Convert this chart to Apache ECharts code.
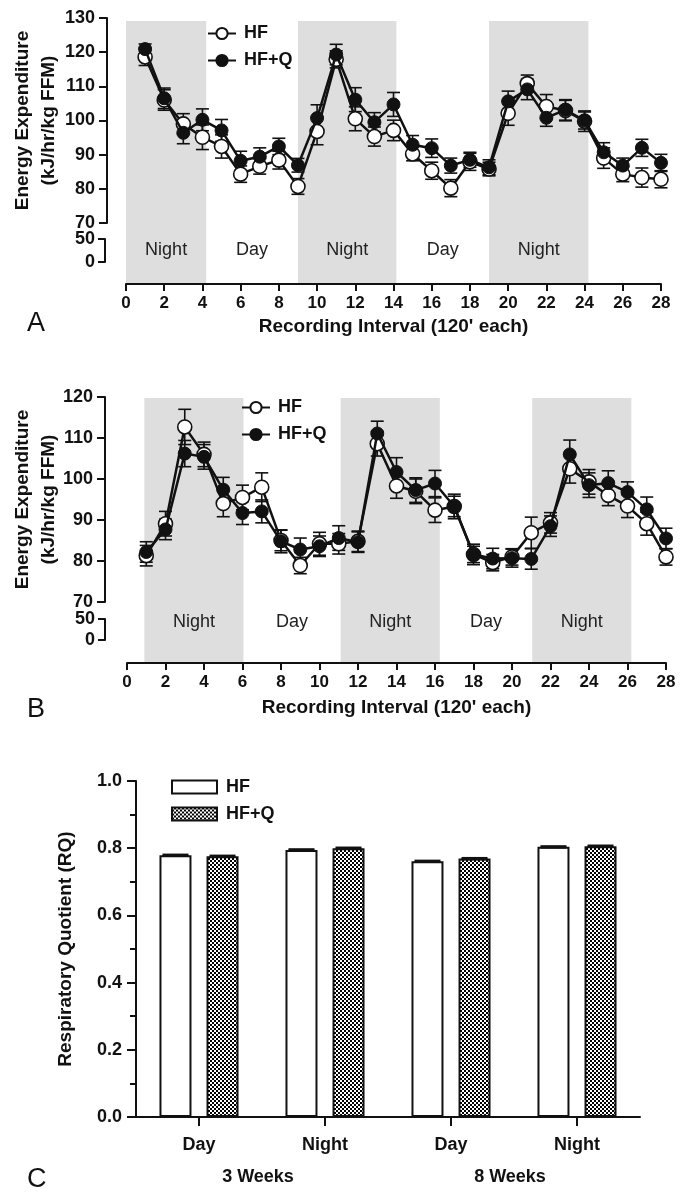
<!DOCTYPE html>
<html>
<head>
<meta charset="utf-8">
<script src="https://cdn.jsdelivr.net/npm/echarts@6/dist/echarts.min.js"></script>
<style>
  html, body { margin: 0; padding: 0; background: #fff; }
  #chart { width: 690px; height: 1203px; }
</style>
</head>
<body>
<div id="chart"></div>
<script>
// ---------------- DATA ----------------
const intervals = [1,2,3,4,5,6,7,8,9,10,11,12,13,14,15,16,17,18,19,20,21,22,23,24,25,26,27,28];
const xTicksLabel = 'Recording Interval (120\' each)';

// Panel A
const aHF   = [118.6,106.0,99.0,95.1,92.4,84.3,86.6,88.4,80.7,96.8,117.9,100.5,95.3,97.1,90.2,85.3,80.2,87.9,85.8,102.1,110.8,104.1,102.9,99.8,89.0,84.3,83.3,82.8];
const aHFQ  = [120.9,106.5,96.4,100.2,97.1,88.2,89.4,92.4,86.9,100.7,119.3,106.1,99.5,104.7,92.9,91.9,86.8,88.5,86.3,105.6,109.1,100.8,103.1,100.0,90.7,86.8,92.0,87.6];
const aHFerr  = [2.5,3.0,3.0,3.6,3.4,2.4,2.3,2.6,2.3,3.9,2.5,3.5,2.8,3.0,2.0,2.5,2.5,2.5,2.0,3.5,2.5,3.5,3.0,3.0,3.0,2.2,2.8,2.5];
const aHFQerr = [1.5,3.0,3.2,3.2,3.2,2.8,2.6,2.4,2.0,3.9,3.0,3.5,2.8,3.5,2.7,2.7,2.2,2.2,2.2,3.0,3.0,2.5,3.0,2.5,2.8,2.2,2.5,2.5];
const aNight = [[0, 4.2], [9, 14.15], [19, 24.2]];
const aDay   = [[4.2, 9], [14.15, 19]];

// Panel B
const bHF   = [81.3,89.1,112.7,106.0,94.0,95.5,98.0,85.0,78.9,84.2,84.2,84.8,108.6,98.3,97.0,92.4,93.3,81.6,79.6,81.0,86.9,89.3,102.5,99.3,96.0,93.4,89.1,81.0];
const bHFQ  = [82.2,87.7,106.2,105.4,97.4,91.7,92.1,84.8,82.8,83.6,85.6,84.6,111.1,101.7,97.3,98.9,93.3,81.6,80.6,80.7,80.5,88.5,106.0,98.5,99.0,96.8,92.6,85.5];
const bHFerr  = [2.5,3.0,4.3,3.0,3.2,3.0,3.5,2.5,2.0,2.8,2.5,2.5,3.0,3.0,3.0,3.0,2.5,2.0,2.0,2.0,3.8,2.5,3.5,3.0,2.5,2.8,2.8,2.0];
const bHFQerr = [2.5,2.5,3.2,3.0,3.0,2.8,2.8,2.8,2.8,2.5,3.0,2.5,3.0,3.5,3.0,3.2,3.0,2.5,2.5,2.2,2.5,2.5,3.5,3.0,3.0,2.5,3.0,2.5];
const bNight = [[0.9, 6.05], [11.1, 16.25], [21.05, 26.2]];
const bDay   = [[6.05, 11.1], [16.25, 21.05]];

// Panel C
const cCategories = ['Day', 'Night', 'Day', 'Night'];
const cGroups = ['3 Weeks', '8 Weeks'];
const cHF   = [0.779, 0.795, 0.761, 0.804];
const cHFQ  = [0.776, 0.800, 0.769, 0.806];
const cHFerr  = [0.002, 0.002, 0.002, 0.002];
const cHFQerr = [0.002, 0.002, 0.002, 0.002];

// ---------------- STYLE ----------------
const FONT = "'Liberation Sans', Arial, Helvetica, sans-serif";
const BLACK = '#111';
const SHADE = '#dedede';
const BAR_W = 32;
const BAR_GAP = 0.47;

function checker() {
  const c = document.createElement('canvas');
  c.width = 4; c.height = 4;
  const g = c.getContext('2d');
  g.fillStyle = '#000'; g.fillRect(0, 0, 4, 4);
  g.fillStyle = '#fff'; g.fillRect(0, 0, 2, 2); g.fillRect(2, 2, 2, 2);
  return c;
}
const checkerPattern = { image: checker(), repeat: 'repeat' };

function pairs(xs, ys) { return xs.map((x, i) => [x, ys[i]]); }
function triples(xs, ys, es) { return xs.map((x, i) => [x, ys[i], es[i]]); }

function errRender(offsetSign) {
  return function (params, api) {
    const x = api.value(0), v = api.value(1), e = api.value(2);
    const t = api.coord([x, v + e]);
    const b = api.coord([x, v - e]);
    const off = offsetSign ? offsetSign * BAR_W * (1 + BAR_GAP) / 2 : 0;
    const hw = offsetSign ? 13 : 6.5;
    const cx = t[0] + off;
    const st = { stroke: BLACK, lineWidth: offsetSign ? 2 : 1.6 };
    return {
      type: 'group',
      children: [
        { type: 'line', shape: { x1: cx, y1: t[1], x2: cx, y2: b[1] }, style: st },
        { type: 'line', shape: { x1: cx - hw, y1: t[1], x2: cx + hw, y2: t[1] }, style: st },
        { type: 'line', shape: { x1: cx - hw, y1: b[1], x2: cx + hw, y2: b[1] }, style: st }
      ]
    };
  };
}

function shadeAreas(night, day) {
  const items = [];
  night.forEach(r => items.push([{ xAxis: r[0], name: 'Night', itemStyle: { color: SHADE } }, { xAxis: r[1] }]));
  day.forEach(r => items.push([{ xAxis: r[0], name: 'Day', itemStyle: { color: 'rgba(0,0,0,0)' } }, { xAxis: r[1] }]));
  return items;
}

const axisLineStyle = { show: true, onZero: false, lineStyle: { color: BLACK, width: 2 } };
const tickLabel = { color: BLACK, fontFamily: FONT, fontWeight: 'bold', fontSize: 18 };

function hiddenAxis(grid, extra) {
  return Object.assign({ gridIndex: grid, type: 'value', show: false, axisLine: { onZero: false }, splitLine: { show: false } }, extra || {});
}

function baseXAxis(grid, nameGap) {
  return {
    gridIndex: grid, type: 'value', min: 0, max: 28, interval: 2, z: 5,
    axisLine: axisLineStyle,
    axisTick: { show: true, length: 7, lineStyle: { color: BLACK, width: 2 } },
    axisLabel: Object.assign({ margin: 11 }, tickLabel, { fontSize: 17 }),
    splitLine: { show: false },
    name: xTicksLabel, nameLocation: 'middle', nameGap: nameGap, nameMoveOverlap: false,
    nameTextStyle: { color: BLACK, fontFamily: FONT, fontWeight: 'bold', fontSize: 19 }
  };
}

function upperYAxis(grid, min, max, offset, nameGap) {
  return {
    gridIndex: grid, type: 'value', min: min, max: max, interval: 10, offset: offset,
    axisLine: axisLineStyle,
    axisTick: { show: true, length: 8, lineStyle: { color: BLACK, width: 2 } },
    axisLabel: Object.assign({ margin: 12 }, tickLabel),
    splitLine: { show: false },
    name: 'Energy Expenditure\n(kJ/hr/kg FFM)', nameLocation: 'middle', nameRotate: 90, nameGap: nameGap,
    nameMoveOverlap: false,
    nameTextStyle: { color: BLACK, fontFamily: FONT, fontWeight: 'bold', fontSize: 19, lineHeight: 26 }
  };
}

function lowerYAxis(grid) {
  return {
    gridIndex: grid, type: 'value', min: 0, max: 50, interval: 50,
    axisLine: axisLineStyle,
    axisTick: { show: true, length: 7, lineStyle: { color: BLACK, width: 2 } },
    axisLabel: Object.assign({ margin: 10 }, tickLabel),
    splitLine: { show: false }
  };
}

function lineSeries(name, xIdx, yIdx, data, filled) {
  return {
    name: name, type: 'line', xAxisIndex: xIdx, yAxisIndex: yIdx, z: filled ? 6 : 5,
    data: data, symbol: 'circle', symbolSize: filled ? 13 : 14,
    lineStyle: { color: BLACK, width: 2.5 },
    itemStyle: filled ? { color: BLACK, borderColor: BLACK, borderWidth: 1 }
                      : { color: '#fff', borderColor: BLACK, borderWidth: 1.6 },
    emphasis: { disabled: true }
  };
}

function errSeries(name, xIdx, yIdx, data, sign) {
  return {
    name: name, type: 'custom', xAxisIndex: xIdx, yAxisIndex: yIdx, z: 4,
    renderItem: errRender(sign), data: data, silent: true
  };
}

function shadeSeries(xIdx, yIdx, night, day, dist) {
  return {
    name: 'shade', type: 'scatter', xAxisIndex: xIdx, yAxisIndex: yIdx, z: 1, data: [], silent: true,
    markArea: {
      silent: true,
      label: { show: true, position: 'insideBottom', distance: dist, color: '#222', fontFamily: FONT, fontSize: 18, fontWeight: 'normal' },
      data: shadeAreas(night, day)
    }
  };
}

const legendLine = (left, top) => ({
  orient: 'vertical', left: left, top: top, itemWidth: 28, itemHeight: 14, itemGap: 6,
  data: ['HF', 'HF+Q'], selectedMode: false,
  textStyle: { color: BLACK, fontFamily: FONT, fontWeight: 'bold', fontSize: 18, lineHeight: 21, padding: [0, 0, 0, 3] }
});

function grid(left, width, top, height) {
  return { left: left, width: width, top: top, height: height, containLabel: false, outerBoundsMode: 'none' };
}

const option = {
  animation: false,
  backgroundColor: '#fff',
  grid: [
    grid(126, 535, 18, 205),   // 0 A data
    grid(126, 535, 21, 263),   // 1 A base (shade + x axis)
    grid(105, 4, 239, 23),     // 2 A lower y segment
    grid(127, 539, 397, 205),  // 3 B data
    grid(127, 539, 398, 265),  // 4 B base
    grid(105, 4, 619, 21),     // 5 B lower y segment
    grid(136, 504, 781, 336)   // 6 C
  ],
  xAxis: [
    hiddenAxis(0, { min: 0, max: 28 }),
    baseXAxis(1, 33),
    hiddenAxis(2, { min: 0, max: 1 }),
    hiddenAxis(3, { min: 0, max: 28 }),
    baseXAxis(4, 35),
    hiddenAxis(5, { min: 0, max: 1 }),
    {
      gridIndex: 6, type: 'category', data: cCategories, position: 'bottom',
      axisLine: axisLineStyle,
      axisTick: { show: true, alignWithLabel: true, length: 9, lineStyle: { color: BLACK, width: 2 } },
      axisLabel: Object.assign({ margin: 19 }, tickLabel)
    },
    {
      gridIndex: 6, type: 'category', data: cGroups, position: 'bottom', offset: 0,
      axisLine: { show: false }, axisTick: { show: false },
      axisLabel: Object.assign({ margin: 51, padding: [0, 8, 0, 0] }, tickLabel)
    }
  ],
  yAxis: [
    upperYAxis(0, 70, 130, 19, 45),
    hiddenAxis(1, { min: 0, max: 1 }),
    lowerYAxis(2),
    upperYAxis(3, 70, 120, 22, 43),
    hiddenAxis(4, { min: 0, max: 1 }),
    lowerYAxis(5),
    {
      gridIndex: 6, type: 'value', min: 0, max: 1, interval: 0.2,
      axisLine: axisLineStyle,
      axisTick: { show: true, length: 9, lineStyle: { color: BLACK, width: 2 } },
      minorTick: { show: true, splitNumber: 2, length: 6, lineStyle: { color: BLACK, width: 2 } },
      axisLabel: Object.assign({ margin: 14, formatter: v => v.toFixed(1) }, tickLabel),
      splitLine: { show: false },
      name: 'Respiratory Quotient (RQ)', nameLocation: 'middle', nameRotate: 90, nameGap: 61,
      nameMoveOverlap: false,
      nameTextStyle: { color: BLACK, fontFamily: FONT, fontWeight: 'bold', fontSize: 19 }
    }
  ],
  legend: [
    legendLine(202, 18),
    legendLine(236, 392),
    {
      orient: 'vertical', left: 166, top: 773, itemWidth: 45, itemHeight: 13, itemGap: 9,
      icon: 'rect', selectedMode: false,
      data: ['HF ', 'HF+Q '], formatter: n => n.trim(),
      textStyle: { color: BLACK, fontFamily: FONT, fontWeight: 'bold', fontSize: 18, lineHeight: 15, padding: [0, 0, 0, 4] }
    }
  ],
  series: [
    shadeSeries(1, 1, aNight, aDay, 25),
    errSeries('errA1', 0, 0, triples(intervals, aHF, aHFerr), 0),
    errSeries('errA2', 0, 0, triples(intervals, aHFQ, aHFQerr), 0),
    lineSeries('HF', 0, 0, pairs(intervals, aHF), false),
    lineSeries('HF+Q', 0, 0, pairs(intervals, aHFQ), true),

    shadeSeries(4, 4, bNight, bDay, 32),
    errSeries('errB1', 3, 3, triples(intervals, bHF, bHFerr), 0),
    errSeries('errB2', 3, 3, triples(intervals, bHFQ, bHFQerr), 0),
    lineSeries('HF', 3, 3, pairs(intervals, bHF), false),
    lineSeries('HF+Q', 3, 3, pairs(intervals, bHFQ), true),

    {
      name: 'HF ', type: 'bar', xAxisIndex: 6, yAxisIndex: 6, data: cHF,
      barWidth: BAR_W, barGap: (BAR_GAP * 100) + '%',
      itemStyle: { color: '#fff', borderColor: BLACK, borderWidth: 2 }, emphasis: { disabled: true }
    },
    {
      name: 'HF+Q ', type: 'bar', xAxisIndex: 6, yAxisIndex: 6, data: cHFQ,
      barWidth: BAR_W, barGap: (BAR_GAP * 100) + '%',
      itemStyle: { color: checkerPattern, borderColor: BLACK, borderWidth: 2 }, emphasis: { disabled: true }
    },
    errSeries('errC1', 6, 6, triples([0, 1, 2, 3], cHF, cHFerr), -1),
    errSeries('errC2', 6, 6, triples([0, 1, 2, 3], cHFQ, cHFQerr), 1)
  ],
  graphic: [
    { type: 'text', left: 27, top: 310, style: { text: 'A', fontFamily: FONT, fontSize: 27, fill: BLACK } },
    { type: 'text', left: 27, top: 696, style: { text: 'B', fontFamily: FONT, fontSize: 27, fill: BLACK } },
    { type: 'text', left: 27, top: 1166, style: { text: 'C', fontFamily: FONT, fontSize: 27, fill: BLACK } }
  ]
};

const chart = echarts.init(document.getElementById('chart'), null, { renderer: 'canvas' });
chart.setOption(option);
</script>
</body>
</html>
